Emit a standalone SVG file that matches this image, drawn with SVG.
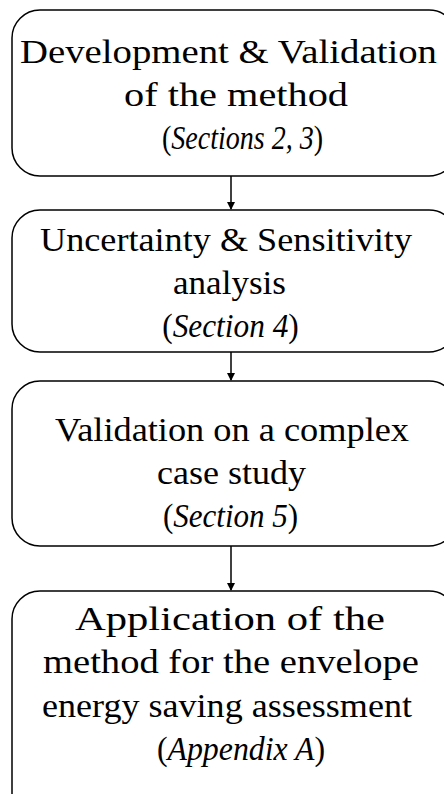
<svg xmlns="http://www.w3.org/2000/svg" width="444" height="794" viewBox="0 0 444 794">
<style>
.box{fill:#fff;stroke:#000;stroke-width:1.5}
.t{font-family:"Liberation Serif","DejaVu Serif",serif;font-size:33px;fill:#000;text-anchor:middle}
.i{font-style:italic}
.c{stroke:#000;stroke-width:1.5;fill:none}
</style>
<defs>
<marker id="ah" markerWidth="8" markerHeight="8" refX="7" refY="4" orient="auto" markerUnits="userSpaceOnUse">
<path d="M0,0 L8,4 L0,8 Z" fill="#000"/>
</marker>
</defs>
<rect width="444" height="794" fill="#fff"/>
<g id="connectors">
<line class="c" x1="231" y1="176" x2="231" y2="209" marker-end="url(#ah)"/>
<line class="c" x1="231" y1="352" x2="231" y2="380" marker-end="url(#ah)"/>
<line class="c" x1="231" y1="546" x2="231" y2="590" marker-end="url(#ah)"/>
</g>
<g id="node1">
<rect class="box" x="12" y="10" width="445" height="166" rx="28"/>
<text class="t" x="228.5" y="63" textLength="417" lengthAdjust="spacingAndGlyphs">Development &amp; Validation</text>
<text class="t" x="236" y="106" textLength="224" lengthAdjust="spacingAndGlyphs">of the method</text>
<text class="t" transform="translate(242.5,149) scale(0.85,1)">(<tspan class="i">Sections 2, 3</tspan>)</text>
</g>
<g id="node2">
<rect class="box" x="12" y="210" width="445" height="142" rx="28"/>
<text class="t" x="226" y="251" textLength="372" lengthAdjust="spacingAndGlyphs">Uncertainty &amp; Sensitivity</text>
<text class="t" x="229.5" y="294" textLength="113" lengthAdjust="spacingAndGlyphs">analysis</text>
<text class="t" transform="translate(230.5,337) scale(0.95,1)">(<tspan class="i">Section 4</tspan>)</text>
</g>
<g id="node3">
<rect class="box" x="12" y="381" width="445" height="165" rx="28"/>
<text class="t" x="232" y="441" textLength="354" lengthAdjust="spacingAndGlyphs">Validation on a complex</text>
<text class="t" x="231.5" y="484" textLength="149" lengthAdjust="spacingAndGlyphs">case study</text>
<text class="t" transform="translate(230.5,527) scale(0.94,1)">(<tspan class="i">Section 5</tspan>)</text>
</g>
<g id="node4">
<rect class="box" x="12" y="591" width="445" height="240" rx="28"/>
<text class="t" x="230" y="630" textLength="310" lengthAdjust="spacingAndGlyphs">Application of the</text>
<text class="t" x="231" y="673" textLength="376" lengthAdjust="spacingAndGlyphs">method for the envelope</text>
<text class="t" x="227" y="717" textLength="370" lengthAdjust="spacingAndGlyphs">energy saving assessment</text>
<text class="t" transform="translate(241,760) scale(0.965,1)">(<tspan class="i">Appendix A</tspan>)</text>
</g>
</svg>
